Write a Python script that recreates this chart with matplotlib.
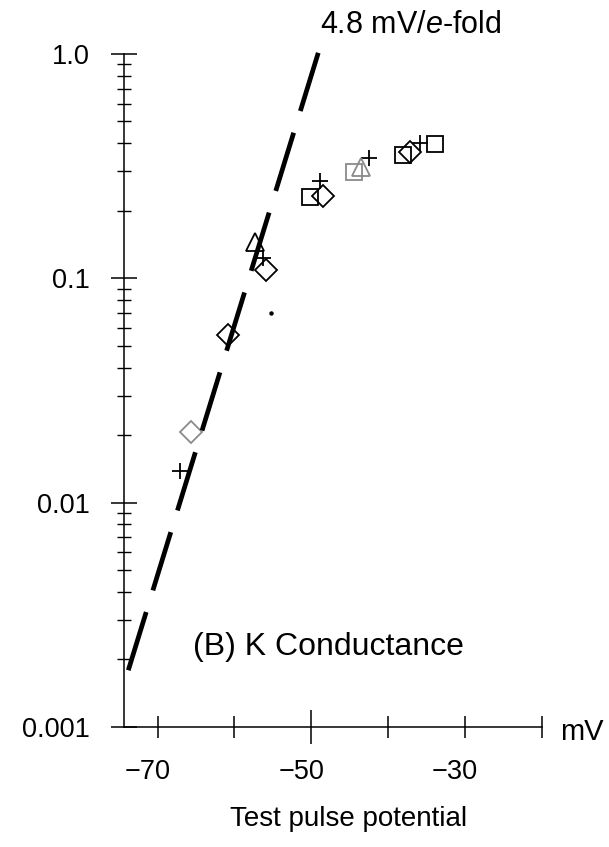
import numpy as np
import matplotlib
matplotlib.use("Agg")
import matplotlib.pyplot as plt
import matplotlib.ticker as mticker
import matplotlib.transforms as mtransforms

plt.rcParams['font.family'] = ['Liberation Sans', 'DejaVu Sans']
plt.rcParams['mathtext.fontset'] = 'custom'
plt.rcParams['mathtext.rm'] = 'Liberation Sans'
plt.rcParams['mathtext.it'] = 'Liberation Sans:italic'

# test pulse potential (mV) vs relative K conductance
plus_v = [-67.1, -56.3, -48.9, -42.45, -35.9]
plus_g = [0.0138, 0.1226, 0.272, 0.345, 0.400]

diam_v = [-60.8, -55.9, -48.5, -37.1]
diam_g = [0.0559, 0.1086, 0.233, 0.365]
diam_gray_v = [-65.6]
diam_gray_g = [0.0207]

sq_v = [-50.1, -38.0, -33.9]
sq_g = [0.231, 0.356, 0.398]
sq_gray_v = [-44.4]
sq_gray_g = [0.299]

tri_v = [-57.3]
tri_g = [0.145]
tri_gray_v = [-43.5]
tri_gray_g = [0.313]

dot_v = [-55.2]
dot_g = [0.0698]

# the 4.8 mV/e-fold slope line as drawn
fit_v = [-73.80, -48.93]
fit_g = [0.00179, 1.052]

xticks = [-70, -60, -50, -40, -30, -20]
xlabels = ['\u221270', '', '\u221250', '', '\u221230', '']
yticks = [0.001, 0.01, 0.1, 1.0]
ylabels = ['0.001', '0.01', '0.1', '1.0']

fig = plt.figure(figsize=(6.09, 8.47), dpi=100)
ax = fig.add_axes([0.2036, 0.1417, 0.686, 0.7946])

gray = '#8a8a8a'
mk = dict(ls='none', mfc='none', mew=1.3, clip_on=False)

ax.plot(plus_v, plus_g, marker='+', mec='k', ms=12, **mk)
ax.plot(diam_v, diam_g, marker='D', mec='k', ms=10.8, **mk)
ax.plot(diam_gray_v, diam_gray_g, marker='D', mec=gray, ms=10.8, **mk)
ax.plot(sq_v, sq_g, marker='s', mec='k', ms=11.2, **mk)
ax.plot(sq_gray_v, sq_gray_g, marker='s', mec=gray, ms=11.2, **mk)
ax.plot(tri_v, tri_g, marker='^', mec='k', ms=13, **mk)
ax.plot(tri_gray_v, tri_gray_g, marker='^', mec=gray, ms=13, **mk)
ax.plot(dot_v, dot_g, marker='o', color='k', ms=2.2, ls='none')

ax.plot(fit_v, fit_g, color='k', lw=3.4, dashes=(12.9, 4.8),
        dash_capstyle='butt', clip_on=False, zorder=3)

ax.set_yscale('log')
ax.set_xlim(-74.36, -20)
ax.set_ylim(0.001, 1.0)

ax.set_xticks(xticks)
ax.set_xticklabels(xlabels)
ax.set_yticks(yticks)
ax.set_yticklabels(ylabels)
ax.yaxis.set_minor_locator(mticker.LogLocator(base=10, subs=np.arange(2, 10)))
ax.yaxis.set_minor_formatter(mticker.NullFormatter())

for s in ['top', 'right']:
    ax.spines[s].set_visible(False)
for s in ['left', 'bottom']:
    ax.spines[s].set_linewidth(1.1)

ax.tick_params(axis='x', which='major', direction='inout', length=15.8,
               width=1.1, pad=15, labelsize=19.5)
ax.tick_params(axis='y', which='major', direction='inout', length=18.7,
               width=1.1, pad=15, labelsize=19.5)
ax.tick_params(axis='y', which='minor', direction='inout', length=10,
               width=1.0)

# -50 tick is drawn longer in the original
ax.xaxis.get_major_ticks()[2].tick1line.set_markersize(24)

shift = mtransforms.ScaledTranslation(-0.10, 0, fig.dpi_scale_trans)
for lbl in ax.get_xticklabels():
    lbl.set_transform(lbl.get_transform() + shift)

fig.text(320 / 609, 1 - 33 / 847, '4.8 mV/$\\mathit{e}$-fold', fontsize=22,
         ha='left', va='baseline')
fig.text(193 / 609, 1 - 655 / 847, '(B) K Conductance', fontsize=23,
         ha='left', va='baseline')
fig.text(560 / 609, 1 - 732 / 847, 'mV', fontsize=21, ha='left', va='center')
fig.text(349 / 609, 1 - 826 / 847, 'Test pulse potential', fontsize=20,
         ha='center', va='baseline')

fig.savefig('out.png', dpi=100)
